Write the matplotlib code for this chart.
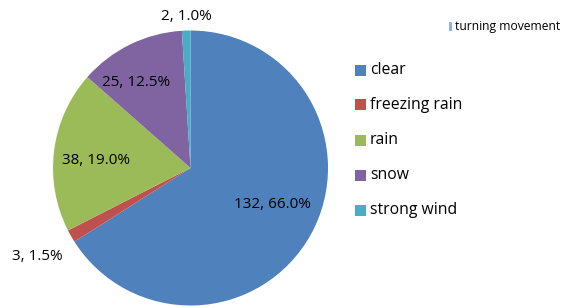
import matplotlib.pyplot as plt
from matplotlib.patches import Rectangle

# Data
categories = ['clear', 'freezing rain', 'rain', 'snow', 'strong wind']
counts = [132, 3, 38, 25, 2]
colors = ['#4F81BD', '#C0504D', '#9BBB59', '#8064A2', '#4BACC6']

W, H = 564, 307
fig = plt.figure(figsize=(W / 100, H / 100), dpi=100)
plt.rcParams['font.family'] = ['Open Sans', 'DejaVu Sans']

# Pie axes: center (190.5, 168) px, radius 137.5 px
cx, cy, r = 190.5, 168, 137.5
ax = fig.add_axes([(cx - r) / W, (H - cy - r) / H, 2 * r / W, 2 * r / H])
total = sum(counts)
wedges, _ = ax.pie(counts, colors=colors, startangle=90, counterclock=False,
                   radius=1.0, wedgeprops=dict(linewidth=0))
ax.set_xlim(-1, 1)
ax.set_ylim(-1, 1)
ax.set_aspect('equal')
ax.axis('off')
for w in wedges:
    w.set_clip_on(False)

# Data labels (pixel positions from the reference)
label_pos = [(272, 205), (37, 256), (96, 160), (136, 82), (186, 17)]
for n, (px, py) in zip(counts, label_pos):
    fig.text(px / W, 1 - py / H, f'{n}, {100 * n / total:.1f}%',
             ha='center', va='center', fontsize=11, color='#000000')

# Legend
leg_y = [70, 105, 140, 175, 210]
for cat, col, py in zip(categories, colors, leg_y):
    fig.patches.append(Rectangle((355 / W, 1 - (py + 5.5) / H), 11 / W, 11 / H,
                                 transform=fig.transFigure, facecolor=col,
                                 edgecolor='none'))
    fig.text(370 / W, 1 - py / H, cat, ha='left', va='center',
             fontsize=11.3, color='#000000')

# Top-right legend title
fig.patches.append(Rectangle((449 / W, 1 - 31 / H), 3 / W, 9 / H,
                             transform=fig.transFigure, facecolor='#8DB4E2',
                             edgecolor='none'))
fig.text(455 / W, 1 - 26.5 / H, 'turning movement', ha='left', va='center',
         fontsize=8.7, color='#000000')

fig.savefig('out.png', dpi=100)
